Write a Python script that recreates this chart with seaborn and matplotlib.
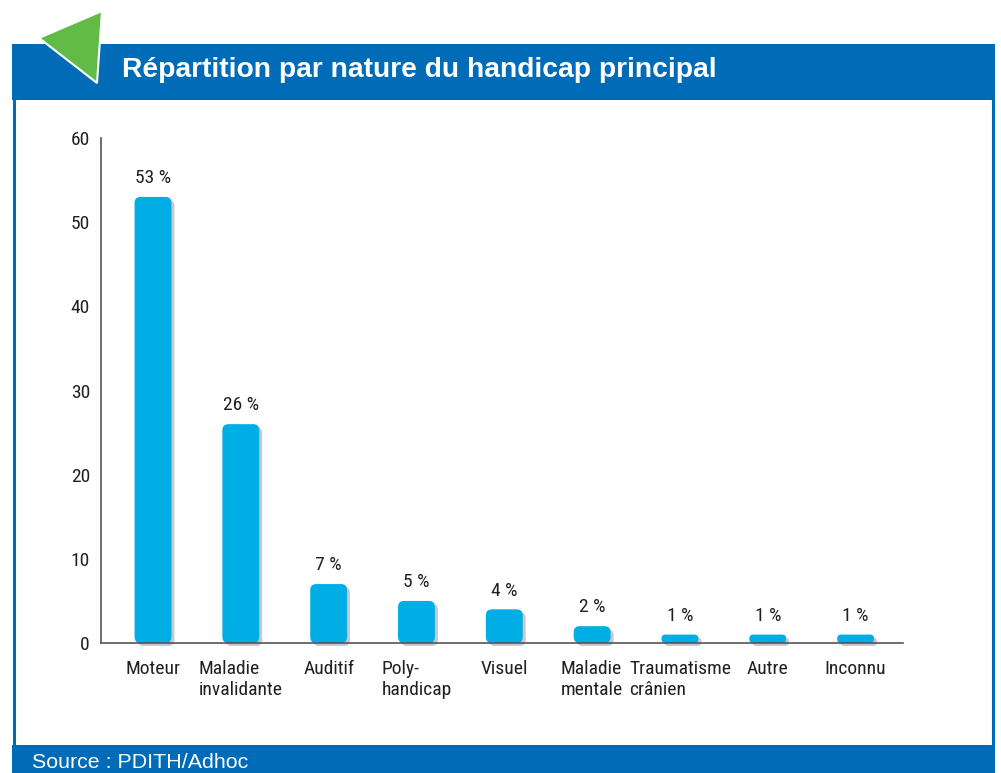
import matplotlib
matplotlib.use("Agg")
import matplotlib.pyplot as plt
import matplotlib.patches as mpatches
import matplotlib.transforms as mtransforms
from matplotlib import font_manager
import seaborn as sns

# data
categories = ["Moteur", "Maladie\ninvalidante", "Auditif", "Poly-\nhandicap", "Visuel",
              "Maladie\nmentale", "Traumatisme\ncrânien", "Autre", "Inconnu"]
values = [53, 26, 7, 5, 4, 2, 1, 1, 1]
value_labels = [f"{v} %" for v in values]
yticks = [0, 10, 20, 30, 40, 50, 60]
title = "Répartition par nature du handicap principal"
source = "Source : PDITH/Adhoc"

BLUE = "#006BB6"
BAR = "#00AEE6"
SHADOW = "#c9c9c9"
GREEN = "#62BB46"
TXT = "#231f20"

sns.set_style("white")
plt.rcParams["font.family"] = ["Liberation Sans", "DejaVu Sans"]


# look for a condensed sans face for the chart text (Helvetica Condensed in the original)
def find_condensed():
    fonts = font_manager.fontManager.ttflist
    regular = [f for f in fonts if f.style == "normal" and f.weight in (400, "normal", "regular")]
    for f in regular:
        if f.name == "Liberation Sans Narrow":
            return f.fname
    for fam in ["Roboto Condensed", "Noto Sans", "Open Sans", "Roboto", "Inter", "DejaVu Sans"]:
        for f in regular:
            if (f.name == fam or f.name.startswith(fam)) and (
                    "Condensed" in f.name or f.stretch in ("condensed", "semi-condensed", 600, 700, 500, 300)
                    or "Condensed" in f.fname or "Narrow" in f.fname):
                if "Extra" in f.fname or "Semi" in f.fname:
                    continue
                return f.fname
    return None


cond_path = find_condensed()
if cond_path:
    fp = font_manager.FontProperties(fname=cond_path, size=14)
else:
    fp = font_manager.FontProperties(family="Liberation Sans", size=12.5)

W, H = 1001, 773
fig = plt.figure(figsize=(W / 100, H / 100), dpi=100)


def fx(px):
    return px / W


def fy(py):
    return 1 - py / H


# frame decorations
fig.add_artist(mpatches.Rectangle((fx(12), fy(100)), fx(995) - fx(12), 56 / H,
                                  transform=fig.transFigure, color=BLUE, lw=0))
fig.add_artist(mpatches.Rectangle((fx(12), 0), fx(995) - fx(12), 28 / H,
                                  transform=fig.transFigure, color=BLUE, lw=0))
fig.add_artist(plt.Line2D([fx(14), fx(14)], [fy(100), fy(745)], color=BLUE, lw=2.2,
                          transform=fig.transFigure))
fig.add_artist(plt.Line2D([fx(992.5), fx(992.5)], [fy(100), fy(745)], color=BLUE, lw=2.2,
                          transform=fig.transFigure))
fig.add_artist(mpatches.Polygon([(fx(39), fy(38)), (fx(102), fy(11)), (fx(97), fy(83))],
                                closed=True, transform=fig.transFigure,
                                facecolor=GREEN, edgecolor="white", lw=1.5))
fig.text(fx(122), fy(70), title, color="white", fontsize=20.3, fontweight="bold",
         va="center", ha="left")
fig.text(fx(32), fy(762), source, color="white", fontsize=15.4, va="center", ha="left")

# chart
ax = fig.add_axes([fx(101), fy(643), fx(903) - fx(101), (643 - 138) / H])
sns.barplot(x=categories, y=values, color=BAR, width=0.42, saturation=1, ax=ax)
ax.set_xlim(-0.592, 8.54)
ax.set_ylim(0, 60)
ax.set_yticks(yticks)
ax.set_xlabel("")
ax.set_ylabel("")
sns.despine(ax=ax)
for s in ["left", "bottom"]:
    ax.spines[s].set_color("#555555")
    ax.spines[s].set_linewidth(1.2)
    ax.spines[s].set_zorder(3)
ax.tick_params(axis="y", direction="in", length=13.7, width=1, color="#444444",
               pad=8, labelcolor=TXT)
ax.tick_params(axis="x", length=0, pad=12, labelcolor=TXT)
for lbl in ax.get_yticklabels():
    lbl.set_fontproperties(fp)
for lbl in ax.get_xticklabels():
    lbl.set_fontproperties(fp)
    lbl.set_multialignment("left")
    lbl.set_linespacing(1.25)

ax.bar_label(ax.containers[0], labels=value_labels, padding=7, color=TXT, fontproperties=fp)

# rounded bars with a drop shadow
p0 = ax.transData.transform((0, 0))
p1 = ax.transData.transform((1, 1))
px_x = p1[0] - p0[0]
px_y = p1[1] - p0[1]
aspect = px_x / px_y
shadow_tr = mtransforms.offset_copy(ax.transData, fig=fig, x=3, y=-3, units="dots")
for p in list(ax.patches):
    x, w, h = p.get_x(), p.get_width(), p.get_height()
    p.set_visible(False)
    r_px = min(6, h * px_y / 2 - 0.2)
    r = r_px / px_x
    for tr, col, z in [(shadow_tr, SHADOW, 1.5), (ax.transData, BAR, 2)]:
        fb = mpatches.FancyBboxPatch((x, 0), w, h,
                                     boxstyle=f"round,pad=0,rounding_size={r}",
                                     mutation_aspect=aspect, transform=tr,
                                     facecolor=col, edgecolor="none", zorder=z,
                                     clip_on=False)
        ax.add_patch(fb)

fig.savefig("out.png", dpi=100)
